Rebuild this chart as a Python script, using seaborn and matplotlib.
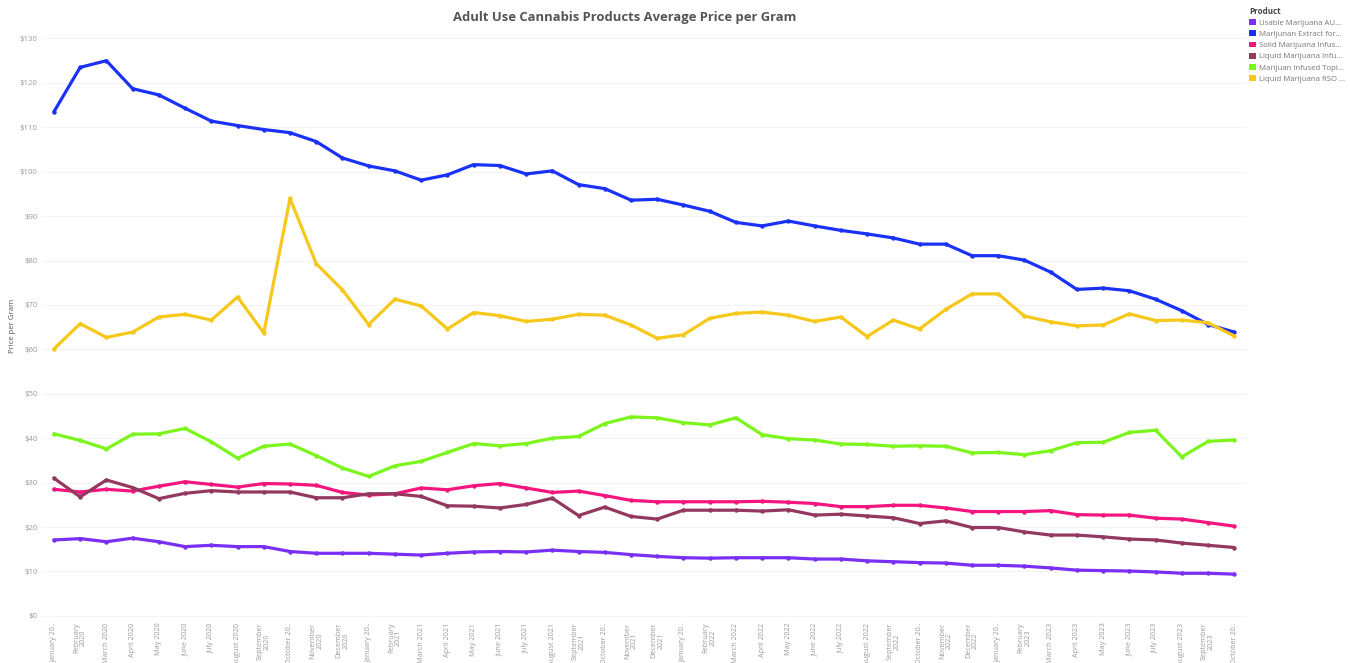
import matplotlib
matplotlib.use("Agg")
import matplotlib.pyplot as plt
from matplotlib.patches import Patch
import seaborn as sns
import pandas as pd
import numpy as np

# Month labels, Jan 2020 – Oct 2023 (long names are truncated as on the dashboard)
months = [
    "January 20..", "February\n2020", "March 2020", "April 2020", "May 2020", "June 2020",
    "July 2020", "August 2020", "September\n2020", "October 20..", "November\n2020", "December\n2020",
    "January 20..", "February\n2021", "March 2021", "April 2021", "May 2021", "June 2021",
    "July 2021", "August 2021", "September\n2021", "October 20..", "November\n2021", "December\n2021",
    "January 20..", "February\n2022", "March 2022", "April 2022", "May 2022", "June 2022",
    "July 2022", "August 2022", "September\n2022", "October 20..", "November\n2022", "December\n2022",
    "January 20..", "February\n2023", "March 2023", "April 2023", "May 2023", "June 2023",
    "July 2023", "August 2023", "September\n2023", "October 20..",
]

products = [
    "Usable Marijuana AU...",
    "Marijunan Extract for...",
    "Solid Marijuana Infus...",
    "Liquid Marijuana Infu...",
    "Marijuan Infused Topi...",
    "Liquid Marijuana RSO ...",
]

usable = [17.1, 17.4, 16.7, 17.5, 16.7, 15.6, 15.9, 15.6, 15.6, 14.5, 14.1, 14.1,
          14.1, 13.9, 13.7, 14.1, 14.4, 14.5, 14.4, 14.8, 14.5, 14.3, 13.8, 13.4,
          13.1, 13.0, 13.1, 13.1, 13.1, 12.8, 12.8, 12.4, 12.2, 12.0, 11.9, 11.4,
          11.4, 11.2, 10.8, 10.3, 10.2, 10.1, 9.9, 9.6, 9.6, 9.4]
extract = [113.5, 123.5, 125.0, 118.7, 117.3, 114.3, 111.4, 110.4, 109.5, 108.8, 106.8, 103.1,
           101.3, 100.2, 98.1, 99.3, 101.6, 101.4, 99.5, 100.2, 97.1, 96.2, 93.6, 93.8,
           92.5, 91.1, 88.6, 87.8, 88.9, 87.8, 86.8, 86.0, 85.1, 83.7, 83.7, 81.1,
           81.1, 80.1, 77.4, 73.5, 73.8, 73.2, 71.3, 68.7, 65.6, 63.9]
solid = [28.5, 27.9, 28.5, 28.1, 29.2, 30.2, 29.6, 29.0, 29.8, 29.7, 29.4, 27.8,
         27.2, 27.5, 28.8, 28.4, 29.3, 29.8, 28.8, 27.8, 28.1, 27.1, 26.0, 25.7,
         25.7, 25.7, 25.7, 25.8, 25.6, 25.3, 24.6, 24.6, 24.9, 24.9, 24.3, 23.5,
         23.5, 23.5, 23.7, 22.8, 22.7, 22.7, 22.0, 21.8, 21.0, 20.2]
liquid = [31.0, 26.8, 30.6, 28.9, 26.4, 27.6, 28.2, 27.9, 27.9, 27.9, 26.6, 26.6,
          27.5, 27.5, 26.9, 24.8, 24.7, 24.3, 25.1, 26.5, 22.6, 24.5, 22.4, 21.8,
          23.8, 23.8, 23.8, 23.6, 23.9, 22.7, 22.9, 22.5, 22.1, 20.8, 21.4, 19.9,
          19.9, 18.9, 18.2, 18.2, 17.8, 17.3, 17.1, 16.4, 15.9, 15.4]
topical = [41.0, 39.5, 37.6, 40.9, 41.0, 42.2, 39.2, 35.5, 38.2, 38.7, 36.1, 33.3,
           31.4, 33.8, 34.8, 36.8, 38.8, 38.3, 38.8, 40.0, 40.4, 43.3, 44.8, 44.6,
           43.5, 43.0, 44.6, 40.8, 39.9, 39.6, 38.7, 38.6, 38.2, 38.3, 38.2, 36.7,
           36.8, 36.3, 37.2, 39.0, 39.1, 41.3, 41.8, 35.8, 39.3, 39.6]
rso = [60.1, 65.8, 62.7, 63.9, 67.3, 67.9, 66.6, 71.8, 63.7, 94.0, 79.3, 73.4,
       65.6, 71.3, 69.8, 64.6, 68.3, 67.6, 66.3, 66.8, 67.9, 67.7, 65.5, 62.5,
       63.3, 67.0, 68.1, 68.4, 67.7, 66.3, 67.3, 62.9, 66.6, 64.6, 69.0, 72.5,
       72.5, 67.5, 66.2, 65.3, 65.5, 68.0, 66.5, 66.6, 66.0, 63.0]

colors = ["#7a2ff5", "#1a32f7", "#f5157f", "#93385f", "#7cf51c", "#f7c81c"]
y_ticks = list(range(0, 140, 10))

series = [usable, extract, solid, liquid, topical, rso]
df = pd.concat(
    [pd.DataFrame({"idx": np.arange(len(months)), "price": vals, "Product": name})
     for name, vals in zip(products, series)],
    ignore_index=True,
)
palette = dict(zip(products, colors))

sns.set_style("white")
plt.rcParams["font.family"] = ["Open Sans", "DejaVu Sans"]

fig = plt.figure(figsize=(13.5, 6.63), dpi=100)
ax = fig.add_axes([0.031, 0.065, 0.893, 0.887])

sns.lineplot(data=df, x="idx", y="price", hue="Product", palette=palette,
             hue_order=products, marker="o", markersize=3.2, markeredgewidth=0,
             linewidth=2.3, legend=False, ax=ax)

ax.set_xlim(-0.46, 45.5)
ax.set_ylim(-0.9, 131.5)
ax.set_yticks(y_ticks)
ax.set_yticklabels([f"${v}" for v in y_ticks], fontsize=5.6, color="#9a9a9a")
ax.set_xticks(range(len(months)))
ax.set_xticklabels(months, rotation=90, fontsize=5.2, color="#9a9a9a",
                   va="top", ha="center", linespacing=1.0)
ax.tick_params(axis="both", length=0, pad=3)
ax.tick_params(axis="x", pad=2)
ax.grid(axis="y", color="#f3f3f3", linewidth=0.8)
ax.grid(axis="x", visible=False)
ax.set_axisbelow(True)
for s in ax.spines.values():
    s.set_visible(False)

ax.set_xlabel("")
ax.set_ylabel("Price per Gram", fontsize=5.6, color="#555555", labelpad=3)

fig.text(0.463, 0.973, "Adult Use Cannabis Products Average Price per Gram",
         ha="center", va="center", fontsize=9.4, fontweight="bold", color="#555555")

handles = [Patch(facecolor=c, edgecolor="none") for c in colors]
leg = fig.legend(handles, products, loc="upper left", bbox_to_anchor=(0.922, 0.997),
                 title="Product", frameon=False, fontsize=5.6, title_fontsize=5.8,
                 handlelength=0.8, handleheight=0.8, handletextpad=0.5,
                 labelspacing=0.45, borderaxespad=0.2, alignment="left")
leg.get_title().set_fontweight("bold")
leg.get_title().set_color("#444444")
for t in leg.get_texts():
    t.set_color("#777777")

fig.savefig("out.png", dpi=100, facecolor="white")
